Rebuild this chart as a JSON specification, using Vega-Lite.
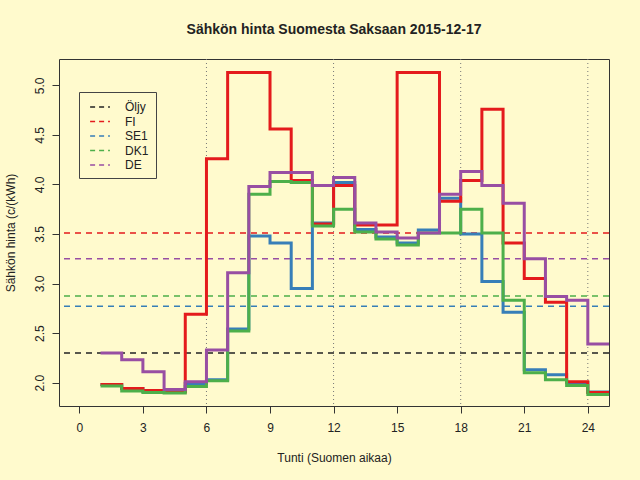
{
  "$schema": "https://vega.github.io/schema/vega-lite/v6.json",
  "autosize": "none",
  "width": 550,
  "height": 347,
  "padding": {"left": 59, "top": 59, "right": 31, "bottom": 74},
  "background": "#fffacd",
  "title": {
    "text": "Sähkön hinta Suomesta Saksaan 2015-12-17",
    "fontSize": 14,
    "fontWeight": "bold",
    "color": "#222222",
    "anchor": "middle",
    "offset": 22
  },
  "datasets": {
    "vlines": [{"hour": 6}, {"hour": 12}, {"hour": 18}, {"hour": 24}],
    "hlines": [
      {"series": "Öljy", "price": 2.30},
      {"series": "FI", "price": 3.51},
      {"series": "SE1", "price": 2.77},
      {"series": "DK1", "price": 2.875},
      {"series": "DE", "price": 3.25}
    ],
    "steps": [
      {"hour": 1, "series": "SE1", "price": 1.98},
      {"hour": 2, "series": "SE1", "price": 1.94},
      {"hour": 3, "series": "SE1", "price": 1.91},
      {"hour": 4, "series": "SE1", "price": 1.91},
      {"hour": 5, "series": "SE1", "price": 1.99},
      {"hour": 6, "series": "SE1", "price": 2.03},
      {"hour": 7, "series": "SE1", "price": 2.54},
      {"hour": 8, "series": "SE1", "price": 3.48},
      {"hour": 9, "series": "SE1", "price": 3.41},
      {"hour": 10, "series": "SE1", "price": 2.95},
      {"hour": 11, "series": "SE1", "price": 3.61},
      {"hour": 12, "series": "SE1", "price": 4.02},
      {"hour": 13, "series": "SE1", "price": 3.545},
      {"hour": 14, "series": "SE1", "price": 3.47},
      {"hour": 15, "series": "SE1", "price": 3.41},
      {"hour": 16, "series": "SE1", "price": 3.54},
      {"hour": 17, "series": "SE1", "price": 3.86},
      {"hour": 18, "series": "SE1", "price": 3.50},
      {"hour": 19, "series": "SE1", "price": 3.02},
      {"hour": 20, "series": "SE1", "price": 2.71},
      {"hour": 21, "series": "SE1", "price": 2.13},
      {"hour": 22, "series": "SE1", "price": 2.08},
      {"hour": 23, "series": "SE1", "price": 2.00},
      {"hour": 24, "series": "SE1", "price": 1.905},
      {"hour": 25, "series": "SE1", "price": 1.905},
      {"hour": 1, "series": "FI", "price": 1.98},
      {"hour": 2, "series": "FI", "price": 1.94},
      {"hour": 3, "series": "FI", "price": 1.92},
      {"hour": 4, "series": "FI", "price": 1.905},
      {"hour": 5, "series": "FI", "price": 2.69},
      {"hour": 6, "series": "FI", "price": 4.26},
      {"hour": 7, "series": "FI", "price": 5.13},
      {"hour": 8, "series": "FI", "price": 5.13},
      {"hour": 9, "series": "FI", "price": 4.56},
      {"hour": 10, "series": "FI", "price": 4.04},
      {"hour": 11, "series": "FI", "price": 3.60},
      {"hour": 12, "series": "FI", "price": 3.99},
      {"hour": 13, "series": "FI", "price": 3.59},
      {"hour": 14, "series": "FI", "price": 3.59},
      {"hour": 15, "series": "FI", "price": 5.13},
      {"hour": 16, "series": "FI", "price": 5.13},
      {"hour": 17, "series": "FI", "price": 3.83},
      {"hour": 18, "series": "FI", "price": 4.04},
      {"hour": 19, "series": "FI", "price": 4.76},
      {"hour": 20, "series": "FI", "price": 3.41},
      {"hour": 21, "series": "FI", "price": 3.05},
      {"hour": 22, "series": "FI", "price": 2.81},
      {"hour": 23, "series": "FI", "price": 2.01},
      {"hour": 24, "series": "FI", "price": 1.90},
      {"hour": 25, "series": "FI", "price": 1.90},
      {"hour": 1, "series": "DK1", "price": 1.965},
      {"hour": 2, "series": "DK1", "price": 1.915},
      {"hour": 3, "series": "DK1", "price": 1.90},
      {"hour": 4, "series": "DK1", "price": 1.895},
      {"hour": 5, "series": "DK1", "price": 1.96},
      {"hour": 6, "series": "DK1", "price": 2.02},
      {"hour": 7, "series": "DK1", "price": 2.52},
      {"hour": 8, "series": "DK1", "price": 3.90},
      {"hour": 9, "series": "DK1", "price": 4.03},
      {"hour": 10, "series": "DK1", "price": 4.02},
      {"hour": 11, "series": "DK1", "price": 3.58},
      {"hour": 12, "series": "DK1", "price": 3.75},
      {"hour": 13, "series": "DK1", "price": 3.52},
      {"hour": 14, "series": "DK1", "price": 3.45},
      {"hour": 15, "series": "DK1", "price": 3.39},
      {"hour": 16, "series": "DK1", "price": 3.51},
      {"hour": 17, "series": "DK1", "price": 3.51},
      {"hour": 18, "series": "DK1", "price": 3.75},
      {"hour": 19, "series": "DK1", "price": 3.51},
      {"hour": 20, "series": "DK1", "price": 2.83},
      {"hour": 21, "series": "DK1", "price": 2.10},
      {"hour": 22, "series": "DK1", "price": 2.03},
      {"hour": 23, "series": "DK1", "price": 1.97},
      {"hour": 24, "series": "DK1", "price": 1.88},
      {"hour": 25, "series": "DK1", "price": 1.88},
      {"hour": 1, "series": "DE", "price": 2.30},
      {"hour": 2, "series": "DE", "price": 2.23},
      {"hour": 3, "series": "DE", "price": 2.11},
      {"hour": 4, "series": "DE", "price": 1.93},
      {"hour": 5, "series": "DE", "price": 2.01},
      {"hour": 6, "series": "DE", "price": 2.33},
      {"hour": 7, "series": "DE", "price": 3.11},
      {"hour": 8, "series": "DE", "price": 3.98},
      {"hour": 9, "series": "DE", "price": 4.12},
      {"hour": 10, "series": "DE", "price": 4.12},
      {"hour": 11, "series": "DE", "price": 3.99},
      {"hour": 12, "series": "DE", "price": 4.07},
      {"hour": 13, "series": "DE", "price": 3.61},
      {"hour": 14, "series": "DE", "price": 3.52},
      {"hour": 15, "series": "DE", "price": 3.46},
      {"hour": 16, "series": "DE", "price": 3.51},
      {"hour": 17, "series": "DE", "price": 3.90},
      {"hour": 18, "series": "DE", "price": 4.13},
      {"hour": 19, "series": "DE", "price": 3.99},
      {"hour": 20, "series": "DE", "price": 3.81},
      {"hour": 21, "series": "DE", "price": 3.25},
      {"hour": 22, "series": "DE", "price": 2.87},
      {"hour": 23, "series": "DE", "price": 2.83},
      {"hour": 24, "series": "DE", "price": 2.39},
      {"hour": 25, "series": "DE", "price": 2.39}
    ]
  },
  "layer": [
    {
      "data": {"name": "vlines"},
      "mark": {"type": "rule", "color": "#777777", "strokeWidth": 1, "strokeDash": [1, 3]},
      "encoding": {
        "x": {"field": "hour", "type": "quantitative"}
      }
    },
    {
      "data": {"name": "hlines"},
      "mark": {"type": "rule", "strokeWidth": 1.5, "strokeDash": [6, 5]},
      "encoding": {
        "y": {"field": "price", "type": "quantitative"},
        "color": {
          "field": "series",
          "type": "nominal",
          "scale": {
            "domain": ["Öljy", "FI", "SE1", "DK1", "DE"],
            "range": ["#222222", "#e41a1c", "#377eb8", "#4daf4a", "#984ea3"]
          },
          "legend": {
            "orient": "none",
            "legendX": 20,
            "legendY": 33,
            "title": null,
            "symbolType": "M-1.4,0H1.4",
            "symbolSize": 200,
            "symbolStrokeWidth": 1.5,
            "symbolDash": [5, 4],
            "symbolOffset": 6,
            "labelOffset": 17,
            "labelFontSize": 12,
            "labelColor": "#222222",
            "rowPadding": 0.5,
            "padding": 7,
            "strokeColor": "#444444"
          }
        }
      }
    },
    {
      "data": {"name": "steps"},
      "mark": {"type": "line", "interpolate": "step-after", "strokeWidth": 3},
      "encoding": {
        "x": {"field": "hour", "type": "quantitative"},
        "y": {"field": "price", "type": "quantitative"},
        "color": {"field": "series", "type": "nominal"}
      }
    }
  ],
  "encoding": {
    "x": {
      "type": "quantitative",
      "scale": {"domain": [-0.96, 25], "nice": false, "zero": false},
      "axis": {
        "title": "Tunti (Suomen aikaa)",
        "values": [0, 3, 6, 9, 12, 15, 18, 21, 24],
        "grid": false,
        "domain": false,
        "tickSize": 7,
        "tickColor": "#333333",
        "labelPadding": 9,
        "titleY": 51,
        "titleBaseline": "middle",
        "titleFontWeight": "normal"
      }
    },
    "y": {
      "type": "quantitative",
      "scale": {"domain": [1.764, 5.266], "nice": false, "zero": false},
      "axis": {
        "title": "Sähkön hinta (c/(kWh)",
        "values": [2, 2.5, 3, 3.5, 4, 4.5, 5],
        "format": ".1f",
        "grid": false,
        "domain": false,
        "tickSize": 7,
        "tickColor": "#333333",
        "labelAngle": 270,
        "labelAlign": "center",
        "labelBaseline": "bottom",
        "labelPadding": 6,
        "titleAngle": 270,
        "titleX": -49,
        "titleY": 173.5,
        "titleAlign": "center",
        "titleBaseline": "middle",
        "titleFontWeight": "normal"
      }
    }
  },
  "config": {
    "font": "Liberation Sans",
    "view": {"stroke": "#333333", "strokeWidth": 1},
    "axis": {"labelFontSize": 12, "titleFontSize": 12, "labelColor": "#222222", "titleColor": "#222222"}
  }
}
